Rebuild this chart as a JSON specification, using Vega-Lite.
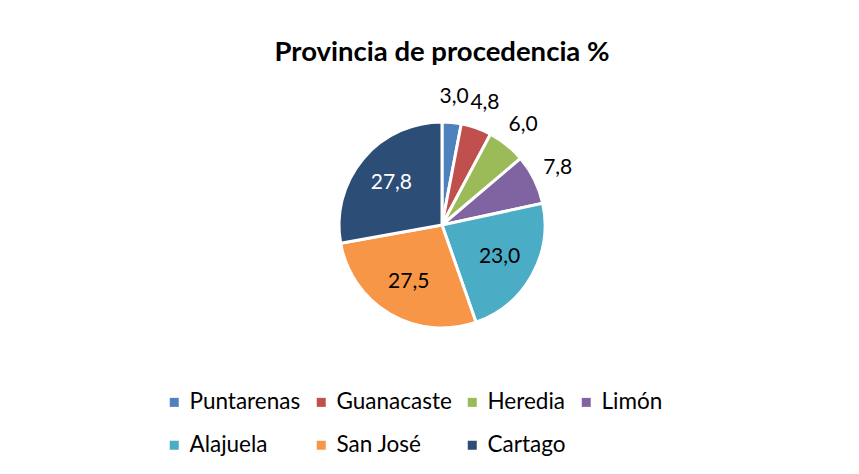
{
  "$schema": "https://vega.github.io/schema/vega-lite/v6.json",
  "autosize": "none",
  "width": 884,
  "height": 310,
  "padding": {"left": 0, "top": 70, "right": 0, "bottom": 94},
  "background": "white",
  "config": {
    "view": {"stroke": null},
    "font": "Lato",
    "locale": {"number": {"decimal": ",", "thousands": ".", "grouping": [3], "currency": ["", " €"]}}
  },
  "title": {
    "text": "Provincia de procedencia %",
    "font": "Lato",
    "fontSize": 27.5,
    "fontWeight": "bold",
    "color": "#000000",
    "anchor": "middle",
    "offset": 4
  },
  "data": {
    "values": [
      {"provincia": "Puntarenas", "pct": 3.0, "orden": 1},
      {"provincia": "Guanacaste", "pct": 4.8, "orden": 2},
      {"provincia": "Heredia", "pct": 6.0, "orden": 3},
      {"provincia": "Limón", "pct": 7.8, "orden": 4},
      {"provincia": "Alajuela", "pct": 23.0, "orden": 5},
      {"provincia": "San José", "pct": 27.5, "orden": 6},
      {"provincia": "Cartago", "pct": 27.8, "orden": 7}
    ]
  },
  "encoding": {
    "theta": {"field": "pct", "type": "quantitative", "stack": true},
    "order": {"field": "orden", "type": "quantitative"}
  },
  "layer": [
    {
      "mark": {"type": "arc", "outerRadius": 103, "stroke": "white", "strokeWidth": 3},
      "encoding": {
        "color": {
          "field": "provincia",
          "type": "nominal",
          "scale": {
            "domain": ["Puntarenas", "Guanacaste", "Heredia", "Limón", "Alajuela", "San José", "Cartago"],
            "range": ["#4F81BD", "#C0504D", "#9BBB59", "#8064A2", "#4BACC6", "#F79646", "#2C4D75"]
          },
          "legend": {
            "title": null,
            "orient": "none",
            "legendX": 163,
            "legendY": 321,
            "direction": "horizontal",
            "columns": 4,
            "gridAlign": "each",
            "symbolType": "square",
            "symbolSize": 81,
            "symbolStrokeWidth": 0,
            "labelFontSize": 22.5,
            "labelFont": "Lato",
            "labelColor": "#000000",
            "labelOffset": 4,
            "columnPadding": 9,
            "rowPadding": 20
          }
        }
      }
    },
    {
      "mark": {"type": "text", "radius": 129, "fontSize": 21, "font": "Lato", "color": "#000000"},
      "encoding": {
        "text": {"condition": {"test": "datum.pct < 10", "field": "pct", "format": ".1f"}, "value": ""}
      }
    },
    {
      "mark": {"type": "text", "radius": 66, "fontSize": 21, "font": "Lato"},
      "encoding": {
        "text": {"condition": {"test": "datum.pct >= 10", "field": "pct", "format": ".1f"}, "value": ""},
        "color": {"condition": {"test": "datum.provincia === 'Cartago'", "value": "#FFFFFF"}, "value": "#000000"}
      }
    }
  ]
}
